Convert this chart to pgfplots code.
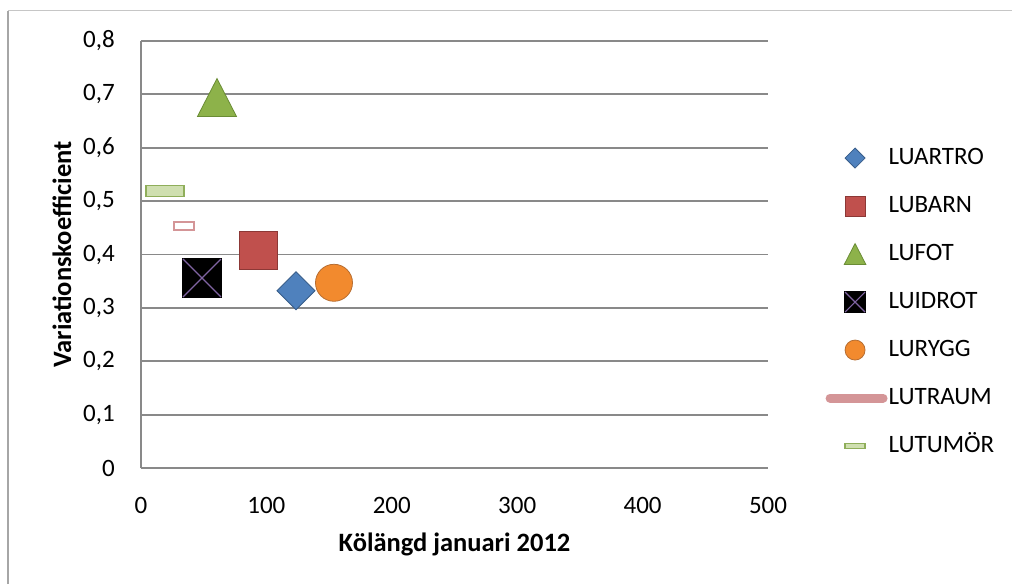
\documentclass[border=0pt]{standalone}
\usepackage{fontspec}
\setmainfont{Carlito}
\usepackage{pgfplots}
\pgfplotsset{compat=1.18}
\definecolor{gridgray}{HTML}{898989}
\definecolor{xlblue}{HTML}{4F81BD}
\definecolor{xlblued}{HTML}{385D8A}
\definecolor{xlred}{HTML}{C0504D}
\definecolor{xlredd}{HTML}{8C3836}
\definecolor{xlgreen}{HTML}{8DB24A}
\definecolor{xlgreend}{HTML}{6A8C35}
\definecolor{xlpurple}{HTML}{8064A2}
\definecolor{xlorange}{HTML}{F28A2E}
\definecolor{xlorangedk}{HTML}{B66D31}
\definecolor{xlpink}{HTML}{D49597}
\definecolor{xllgreen}{HTML}{CFDFB0}
\definecolor{xllgreend}{HTML}{8FAE5A}
\pgfdeclareplotmark{xltri}{%
  \pgfpathmoveto{\pgfqpoint{0pt}{\pgfplotmarksize}}%
  \pgfpathlineto{\pgfqpoint{-1.03\pgfplotmarksize}{-\pgfplotmarksize}}%
  \pgfpathlineto{\pgfqpoint{1.03\pgfplotmarksize}{-\pgfplotmarksize}}%
  \pgfpathclose\pgfusepathqfillstroke}
\pgfdeclareplotmark{xldia}{%
  \pgfpathmoveto{\pgfqpoint{0pt}{\pgfplotmarksize}}%
  \pgfpathlineto{\pgfqpoint{\pgfplotmarksize}{0pt}}%
  \pgfpathlineto{\pgfqpoint{0pt}{-\pgfplotmarksize}}%
  \pgfpathlineto{\pgfqpoint{-\pgfplotmarksize}{0pt}}%
  \pgfpathclose\pgfusepathqfillstroke}
\pgfdeclareplotmark{xlsqx}{%
  \pgfpathrectangle{\pgfqpoint{-\pgfplotmarksize}{-\pgfplotmarksize}}{\pgfqpoint{2\pgfplotmarksize}{2\pgfplotmarksize}}%
  \pgfusepathqfillstroke
  \pgfsetstrokecolor{xlpurple}%
  \pgfpathmoveto{\pgfqpoint{-\pgfplotmarksize}{-\pgfplotmarksize}}%
  \pgfpathlineto{\pgfqpoint{\pgfplotmarksize}{\pgfplotmarksize}}%
  \pgfpathmoveto{\pgfqpoint{-\pgfplotmarksize}{\pgfplotmarksize}}%
  \pgfpathlineto{\pgfqpoint{\pgfplotmarksize}{-\pgfplotmarksize}}%
  \pgfusepathqstroke}
\pgfdeclareplotmark{xlbar}{%
  \pgfpathrectangle{\pgfqpoint{-\pgfplotmarksize}{-0.27\pgfplotmarksize}}{\pgfqpoint{2\pgfplotmarksize}{0.54\pgfplotmarksize}}%
  \pgfusepathqfillstroke}
\pgfdeclareplotmark{xlbarb}{%
  \pgfpathrectangle{\pgfqpoint{-\pgfplotmarksize}{-0.4\pgfplotmarksize}}{\pgfqpoint{2\pgfplotmarksize}{0.8\pgfplotmarksize}}%
  \pgfusepathqfillstroke}
\pgfplotsset{
  xlleg/.style={legend image code/.code={\path[draw=none, fill=none] (0pt,-5pt) rectangle (60pt,5pt); \draw[##1, mark size=#1] plot coordinates {(30pt,0pt)};}},
  xllegline/.style={legend image code/.code={\path[draw=none, fill=none] (0pt,-5pt) rectangle (60pt,5pt); \draw[xlpink, line width=9pt, line cap=round] (5pt,0pt) -- (58pt,0pt);}},
}
\begin{document}
\begin{tikzpicture}[x=1pt,y=1pt]
\useasboundingbox (0,0) rectangle (1012,584);
\draw[gray!70, line width=2pt] (8,0) -- (8,573);
\draw[gray!45, line width=1pt] (8,573) -- (1012,573);
\begin{axis}[
  at={(141pt,116pt)}, anchor=south west,
  scale only axis, width=627pt, height=427pt,
  xmin=0, xmax=500, ymin=0, ymax=0.8,
  xtick={0,100,...,500}, ytick={0,0.1,...,0.8},
  axis lines=left, axis line style={gridgray, line width=1.5pt, -},
  ymajorgrids, grid style={gridgray, line width=1.8pt},
  major tick length=0pt,
  tick label style={font=\fontsize{25}{30}\selectfont},
  /pgf/number format/assume math mode=true,
  yticklabel style={/pgf/number format/.cd, use comma, fixed, precision=1, /tikz/.cd, inner sep=0pt, xshift=-26pt},
  xticklabel style={inner sep=0pt, yshift=-29pt},
  xlabel={Kölängd januari 2012},
  ylabel={Variationskoefficient},
  label style={font=\bfseries\fontsize{26.5}{30}\selectfont},
  xlabel style={at={(axis description cs:0.5,-0.180)}, anchor=center},
  ylabel style={at={(axis description cs:-0.126,0.5)}, anchor=center, rotate=0},
  legend style={at={(axis description cs:1.091,0.754)}, anchor=north west, draw=none, fill=none,
    inner sep=0pt, outer sep=0pt, row sep=24pt,
    font=\fontsize{25}{30}\selectfont,
    nodes={inner sep=1pt, text height=17pt, text depth=5pt, anchor=west}},
  legend cell align=left,
]
\addplot[only marks, mark=xldia, mark size=19pt, mark options={fill=xlblue, draw=xlblued, line width=0.8pt}, xlleg=10pt]
  coordinates {(123.6,0.332)};
\addlegendentry{LUARTRO}
\addplot[only marks, mark=square*, mark size=19pt, mark options={fill=xlred, draw=xlredd, line width=0.8pt}, xlleg=10pt]
  coordinates {(93.3,0.407)};
\addlegendentry{LUBARN}
\addplot[only marks, mark=xltri, mark size=19pt, mark options={fill=xlgreen, draw=xlgreend, line width=0.8pt}, xlleg=10.5pt]
  coordinates {(60.6,0.694)};
\addlegendentry{LUFOT}
\addplot[only marks, mark=xlsqx, mark size=19pt, mark options={fill=black, draw=black, line width=1.2pt}, xlleg=10pt]
  coordinates {(48.6,0.356)};
\addlegendentry{LUIDROT}
\addplot[only marks, mark=*, mark size=18.5pt, mark options={fill=xlorange, draw=xlorangedk, line width=0.8pt}, xlleg=10pt]
  coordinates {(153.9,0.347)};
\addlegendentry{LURYGG}
\addplot[only marks, mark=xlbarb, mark size=10pt, mark options={fill=white, draw=xlpink, line width=1.5pt}, xllegline]
  coordinates {(34.3,0.453)};
\addlegendentry{LUTRAUM}
\addplot[only marks, mark=xlbar, mark size=19pt, mark options={fill=xllgreen, draw=xllgreend, line width=1.2pt}, xlleg=10pt]
  coordinates {(19.1,0.519)};
\addlegendentry{LUTUMÖR}
\end{axis}
\end{tikzpicture}
\end{document}
